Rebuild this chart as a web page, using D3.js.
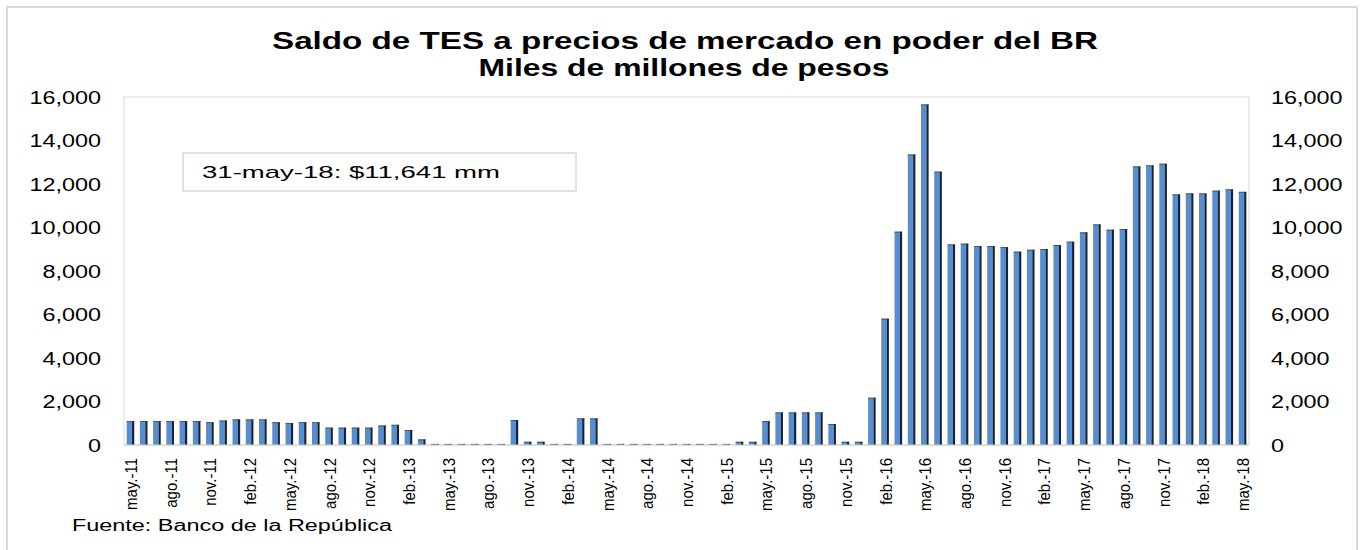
<!DOCTYPE html>
<html>
<head>
<meta charset="utf-8">
<script src="https://cdn.jsdelivr.net/npm/d3@7"></script>
<style>
  body { margin: 0; background: #fff; }
  text { font-family: "Liberation Sans", Arial, sans-serif; fill: #000; }
</style>
</head>
<body>
<svg id="chart" width="1360" height="550"></svg>
<script>
const months = [
  "may.-11","jun.-11","jul.-11","ago.-11","sep.-11","oct.-11","nov.-11","dic.-11",
  "ene.-12","feb.-12","mar.-12","abr.-12","may.-12","jun.-12","jul.-12","ago.-12","sep.-12","oct.-12","nov.-12","dic.-12",
  "ene.-13","feb.-13","mar.-13","abr.-13","may.-13","jun.-13","jul.-13","ago.-13","sep.-13","oct.-13","nov.-13","dic.-13",
  "ene.-14","feb.-14","mar.-14","abr.-14","may.-14","jun.-14","jul.-14","ago.-14","sep.-14","oct.-14","nov.-14","dic.-14",
  "ene.-15","feb.-15","mar.-15","abr.-15","may.-15","jun.-15","jul.-15","ago.-15","sep.-15","oct.-15","nov.-15","dic.-15",
  "ene.-16","feb.-16","mar.-16","abr.-16","may.-16","jun.-16","jul.-16","ago.-16","sep.-16","oct.-16","nov.-16","dic.-16",
  "ene.-17","feb.-17","mar.-17","abr.-17","may.-17","jun.-17","jul.-17","ago.-17","sep.-17","oct.-17","nov.-17","dic.-17",
  "ene.-18","feb.-18","mar.-18","abr.-18","may.-18"
];

// saldo de TES, miles de millones de pesos
const saldo = [
  1100, 1100, 1100, 1100, 1100, 1100, 1050, 1130,
  1180, 1180, 1180, 1050, 1010, 1050, 1050, 800, 800, 800, 800, 900,
  930, 690, 260, 50, 50, 50, 50, 50, 50, 1150, 150, 150,
  50, 50, 1225, 1225, 50, 50, 50, 50, 50, 50, 50, 50,
  50, 50, 150, 150, 1100, 1500, 1500, 1500, 1500, 965, 150, 150,
  2175, 5810, 9810, 13360, 15660, 12570, 9225, 9260, 9150, 9150, 9100, 8890,
  8980, 9010, 9195, 9350, 9780, 10145, 9900, 9930, 12810, 12860, 12935, 11525,
  11570, 11570, 11695, 11755, 11641
];

const yTicks = [0, 2000, 4000, 6000, 8000, 10000, 12000, 14000, 16000];

const titleText = "Saldo de TES a precios de mercado en poder del BR";
const subtitleText = "Miles de millones de pesos";
const noteText = "31-may-18: $11,641 mm";
const sourceText = "Fuente: Banco de la República";

const plot = { left: 124, right: 1249, top: 97, bottom: 445 };
const stretch = 1.3;

const svg = d3.select("#chart");

// the reference picture is stretched sideways, so text gets a textLength
function fit(sel, w) {
  sel.each(function () {
    const n = this.getComputedTextLength();
    d3.select(this)
      .attr("textLength", w ? w : n * stretch)
      .attr("lengthAdjust", "spacingAndGlyphs");
  });
}

/* outer frame */
svg.append("rect")
  .attr("x", 7).attr("y", 7)
  .attr("width", 1350).attr("height", 560)
  .attr("fill", "none")
  .attr("stroke", "#d9d9d9")
  .attr("stroke-width", 2);

/* scales */
const x = d3.scaleBand()
  .domain(months)
  .range([plot.left, plot.right])
  .paddingInner(0.426)
  .paddingOuter(0.2);

const y = d3.scaleLinear()
  .domain([0, 16000])
  .range([plot.bottom, plot.top]);

/* plot area border */
svg.append("rect")
  .attr("x", plot.left).attr("y", plot.top)
  .attr("width", plot.right - plot.left)
  .attr("height", plot.bottom - plot.top)
  .attr("fill", "none")
  .attr("stroke", "#d9d9d9")
  .attr("stroke-width", 1);

/* bars: blue face and dark right side */
const bw = x.bandwidth();
const bar = svg.append("g").selectAll("g")
  .data(saldo)
  .enter().append("g");

bar.append("rect")
  .attr("x", (d, i) => x(months[i]))
  .attr("y", d => y(d))
  .attr("width", bw - 2.2)
  .attr("height", d => y(0) - y(d))
  .attr("fill", "#558ed5");

bar.append("rect")
  .attr("x", (d, i) => x(months[i]) + bw - 2.2)
  .attr("y", d => y(d))
  .attr("width", 2.2)
  .attr("height", d => y(0) - y(d))
  .attr("fill", "#222");

bar.append("rect")
  .attr("x", (d, i) => x(months[i]))
  .attr("y", d => y(d))
  .attr("width", bw)
  .attr("height", 1)
  .attr("fill", "#333")
  .attr("opacity", 0.6);

/* bottom axis line */
svg.append("line")
  .attr("x1", plot.left).attr("x2", plot.right)
  .attr("y1", plot.bottom).attr("y2", plot.bottom)
  .attr("stroke", "#d0d0d0");

/* y labels, left and right */
const leftAxis = svg.append("g");
leftAxis.selectAll("text")
  .data(yTicks)
  .enter().append("text")
  .attr("x", 101)
  .attr("y", d => y(d) + 6.5)
  .attr("text-anchor", "end")
  .attr("font-size", 18)
  .text(d => d3.format(",")(d))
  .call(fit);

const rightAxis = svg.append("g");
rightAxis.selectAll("text")
  .data(yTicks)
  .enter().append("text")
  .attr("x", 1271)
  .attr("y", d => y(d) + 6.5)
  .attr("text-anchor", "start")
  .attr("font-size", 18)
  .text(d => d3.format(",")(d))
  .call(fit);

/* x labels every three months, glyphs wide but length kept short */
svg.append("g").selectAll("text")
  .data(months.filter((m, i) => i % 3 === 0))
  .enter().append("text")
  .attr("transform", d => "translate(" + (x(d) + bw / 2 + 6.5) + "," + 458 + ") rotate(-90)")
  .attr("text-anchor", "end")
  .attr("font-size", 17)
  .text(d => d)
  .each(function () {
    const n = this.getComputedTextLength();
    d3.select(this)
      .attr("textLength", n * 15 / 17)
      .attr("lengthAdjust", "spacingAndGlyphs");
  });

/* titles */
svg.append("text")
  .attr("x", 685).attr("y", 48.5)
  .attr("text-anchor", "middle")
  .attr("font-size", 23)
  .attr("font-weight", "bold")
  .text(titleText)
  .call(fit, 826);

svg.append("text")
  .attr("x", 684).attr("y", 75.5)
  .attr("text-anchor", "middle")
  .attr("font-size", 23)
  .attr("font-weight", "bold")
  .text(subtitleText)
  .call(fit, 411);

/* note box */
svg.append("rect")
  .attr("x", 183).attr("y", 153)
  .attr("width", 393).attr("height", 38)
  .attr("fill", "#fff")
  .attr("stroke", "#d9d9d9")
  .attr("stroke-width", 1.5);

svg.append("text")
  .attr("x", 202).attr("y", 178)
  .attr("font-size", 17)
  .text(noteText)
  .call(fit, 298);

/* source */
svg.append("text")
  .attr("x", 72).attr("y", 531)
  .attr("font-size", 16)
  .text(sourceText)
  .call(fit, 320);
</script>
</body>
</html>
